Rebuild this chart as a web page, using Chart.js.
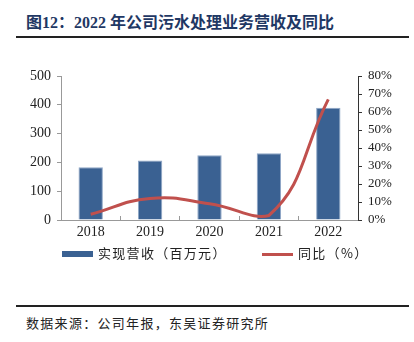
<!DOCTYPE html>
<html>
<head>
<meta charset="utf-8">
<script src="https://cdn.jsdelivr.net/npm/chart.js@4"></script>
<style>
  html, body { margin: 0; padding: 0; background: #fff; }
  body { width: 414px; height: 342px; position: relative; overflow: hidden; }
  .title {
    position: absolute; left: 26px; top: 9px;
    font: bold 16px "Liberation Serif", "Noto Sans CJK SC", serif;
    color: #1f3864; letter-spacing: 0px; white-space: nowrap;
  }
  .rule { position: absolute; left: 16px; width: 393px; background: #222; }
  .rule.top { top: 36px; height: 2px; }
  .rule.bottom { top: 305px; height: 1.5px; }
  .source {
    position: absolute; left: 26px; top: 313px;
    font: 13px "Noto Sans CJK SC", sans-serif; color: #222; letter-spacing: 1.3px;
  }
  #wrap { position: absolute; left: 0; top: 60px; width: 414px; height: 184px; }
  .legend { position: absolute; top: 243px; font: 13px "Noto Sans CJK SC", sans-serif; color: #222;
            letter-spacing: 1.3px; white-space: nowrap; }
  .legend span.sw { display: inline-block; width: 31px; vertical-align: middle; margin-right: 5px; }
</style>
</head>
<body>
<div class="title">图12：2022 年公司污水处理业务营收及同比</div>
<div class="rule top"></div>
<div id="wrap"><canvas id="chart"></canvas></div>
<div class="legend" id="lg-bar" style="left:62px"><span class="sw" style="height:6px;background:#3a6192"></span><span id="lg-bar-t"></span></div>
<div class="legend" id="lg-line" style="left:262px"><span class="sw" style="height:3px;background:#c0504d"></span><span id="lg-line-t"></span></div>
<div class="rule bottom"></div>
<div class="source">数据来源：公司年报，东吴证券研究所</div>

<script>
// ── Data ─────────────────────────────────────────────────
const years   = ['2018', '2019', '2020', '2021', '2022'];
const revenue = [183, 207, 225, 232, 390];   // 百万元
const yoy     = [3.2, 12, 9, 2.5, 67];       // %
const seriesNames = ['实现营收（百万元）', '同比（%）'];

const BAR  = '#3a6192';
const LINE = '#c0504d';
const numFont = { family: '"Liberation Serif", serif', size: 14 };

document.getElementById('lg-bar-t').textContent  = seriesNames[0];
document.getElementById('lg-line-t').textContent = seriesNames[1];

new Chart(document.getElementById('chart'), {
  data: {
    labels: years,
    datasets: [
      {
        type: 'line', label: seriesNames[1], data: yoy, yAxisID: 'y2',
        borderColor: LINE, backgroundColor: LINE, borderWidth: 3,
        pointRadius: 0, tension: 0.45, order: 0,
      },
      {
        type: 'bar', label: seriesNames[0], data: revenue, yAxisID: 'y1',
        backgroundColor: BAR, borderColor: '#8ea6c6', borderWidth: 1,
        categoryPercentage: 1, barPercentage: 0.41, order: 1,
      },
    ]
  },
  options: {
    responsive: true, maintainAspectRatio: false, animation: false,
    layout: { padding: { top: 16, left: 0, right: 0, bottom: 0 } },
    plugins: {
      tooltip: { enabled: false },
      legend: { display: false }
    },
    scales: {
      x: {
        grid: { offset: true, drawOnChartArea: false, tickLength: -4, color: '#999' },
        border: { color: '#999' },
        ticks: { color: '#222', font: numFont, padding: 8 },
        afterFit: (s) => { s.height = 24; },
      },
      y1: {
        position: 'left', min: 0, max: 500,
        ticks: { stepSize: 100, color: '#222', font: numFont, padding: 6 },
        grid: { drawOnChartArea: false, tickLength: 4, color: '#999' },
        border: { color: '#999' },
        afterFit: (s) => { s.width = 61; },
      },
      y2: {
        position: 'right', min: 0, max: 80,
        ticks: { stepSize: 10, autoSkip: false, color: '#222',
                 font: { family: '"Liberation Serif", serif', size: 13 }, padding: 6,
                 callback: (v) => v + '%' },
        grid: { drawOnChartArea: false, tickLength: 4, color: '#333' },
        border: { color: '#333' },
        afterFit: (s) => { s.width = 56; },
      }
    }
  }
});
</script>
</body>
</html>
